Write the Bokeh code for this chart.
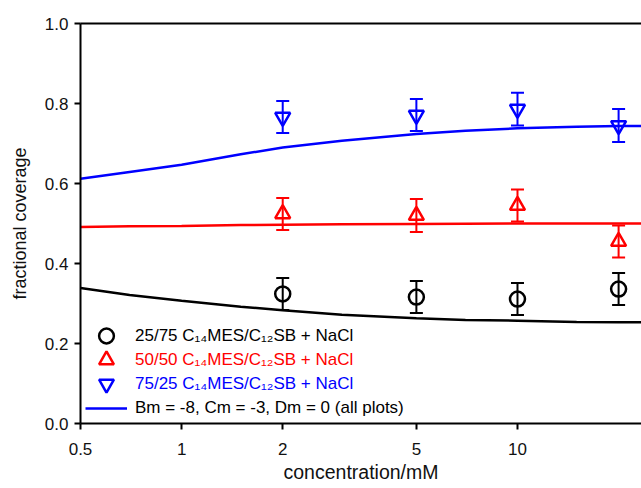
from bokeh.plotting import figure
from bokeh.models import (Range1d, FixedTicker, PrintfTickFormatter, LinearAxis,
                          Whisker, TeeHead, ColumnDataSource, Legend, LegendItem)
from bokeh.embed import file_html
from bokeh.resources import INLINE

FONT = "Liberation Sans"

# measured surface coverage at each salt concentration (mM)
conc = [2, 5, 10, 20]
cov_25_75 = [0.324, 0.316, 0.311, 0.336]
err_25_75 = [0.040, 0.040, 0.040, 0.040]
cov_50_50 = [0.524, 0.520, 0.545, 0.455]
err_50_50 = [0.040, 0.041, 0.040, 0.040]
cov_75_25 = [0.766, 0.771, 0.786, 0.745]
err_75_25 = [0.040, 0.040, 0.041, 0.041]

# model curves (Bm = -8, Cm = -3, Dm = 0)
model_conc = [0.5, 0.7, 1, 1.5, 2, 3, 5, 7, 10, 15, 20, 23.4]
model_25_75 = [0.339, 0.321, 0.307, 0.292, 0.283, 0.272, 0.263, 0.259, 0.257, 0.254, 0.253, 0.253]
model_50_50 = [0.491, 0.493, 0.494, 0.496, 0.497, 0.498, 0.499, 0.4995, 0.500, 0.500, 0.500, 0.500]
model_75_25 = [0.612, 0.629, 0.647, 0.673, 0.690, 0.707, 0.724, 0.732, 0.738, 0.742, 0.744, 0.744]

x_ticks = [0.5, 1, 2, 5, 10]
x_tick_labels = ["0.5", "1", "2", "5", "10"]
y_ticks = [0.0, 0.2, 0.4, 0.6, 0.8, 1.0]

labels = ["25/75 C\u2081\u2084MES/C\u2081\u2082SB + NaCl",
          "50/50 C\u2081\u2084MES/C\u2081\u2082SB + NaCl",
          "75/25 C\u2081\u2084MES/C\u2081\u2082SB + NaCl",
          "Bm = -8, Cm = -3, Dm = 0 (all plots)"]

BLACK, RED, BLUE = "#000000", "#ff0000", "#0000ff"

p = figure(width=641, height=488, x_axis_type="log",
           x_range=Range1d(0.5, 23.4), y_range=Range1d(0, 1),
           output_backend="svg", toolbar_location=None,
           min_border_left=80, min_border_right=0, min_border_top=23, min_border_bottom=65)
p.grid.visible = False
p.outline_line_color = None
p.background_fill_color = "white"
p.border_fill_color = "white"

for ax in (p.xaxis[0], p.yaxis[0]):
    ax.axis_line_width = 2
    ax.major_tick_line_width = 2
    ax.major_tick_out = 6
    ax.major_tick_in = 0
    ax.minor_tick_out = 0
    ax.minor_tick_in = 0
    ax.major_label_text_font = FONT
    ax.major_label_text_font_size = "17px"
    ax.major_label_text_color = "#111111"
    ax.axis_label_text_font = FONT
    ax.axis_label_text_font_style = "normal"
    ax.axis_label_text_color = "#111111"

p.xaxis.ticker = FixedTicker(ticks=x_ticks, minor_ticks=[])
p.xaxis.major_label_overrides = {t: s for t, s in zip(x_ticks, x_tick_labels)}
p.xaxis.axis_label = "concentration/mM"
p.xaxis.axis_label_text_font_size = "19.5px"
p.xaxis.major_label_standoff = 13
p.xaxis.axis_label_standoff = 3

p.yaxis.ticker = FixedTicker(ticks=y_ticks, minor_ticks=[])
p.yaxis.formatter = PrintfTickFormatter(format="%.1f")
p.yaxis.axis_label = "fractional coverage"
p.yaxis.axis_label_text_font_size = "18px"
p.yaxis.major_label_standoff = 6
p.yaxis.axis_label_standoff = 12

# top frame line
top = LinearAxis(ticker=FixedTicker(ticks=[]), major_label_text_font_size="0px",
                 axis_line_width=2, major_tick_out=0, major_tick_in=0,
                 minor_tick_out=0, minor_tick_in=0)
p.add_layout(top, "above")

# model curves
l_black = p.line(model_conc, model_25_75, line_color=BLACK, line_width=2.5)
l_red = p.line(model_conc, model_50_50, line_color=RED, line_width=2.5)
l_blue = p.line(model_conc, model_75_25, line_color=BLUE, line_width=2.5)

series = [(cov_25_75, err_25_75, BLACK, "circle"),
          (cov_50_50, err_50_50, RED, "triangle"),
          (cov_75_25, err_75_25, BLUE, "inverted_triangle")]

marker_renderers = []
for cov, err, color, marker in series:
    src = ColumnDataSource(dict(
        x=conc, y=cov,
        lo=[c - e for c, e in zip(cov, err)],
        hi=[c + e for c, e in zip(cov, err)]))
    w = Whisker(source=src, base="x", lower="lo", upper="hi", dimension="height",
                line_color=color, line_width=2,
                upper_head=TeeHead(size=13, line_color=color, line_width=2),
                lower_head=TeeHead(size=13, line_color=color, line_width=2))
    p.add_layout(w)
    r = p.scatter("x", "y", source=src, marker=marker, size=15,
                  fill_color=None, line_color=color, line_width=2.5)
    marker_renderers.append(r)

# one legend per row so each label keeps its own colour
rows = [(labels[0], marker_renderers[0], BLACK, 37, 69),
        (labels[1], marker_renderers[1], RED, 37, 45),
        (labels[2], marker_renderers[2], BLUE, 37, 21),
        (labels[3], l_blue, BLACK, 20, 5)]
for text, rend, color, gh, ybot in rows:
    lg = Legend(items=[LegendItem(label=text, renderers=[rend])],
                location=(5, ybot), padding=0, margin=0, spacing=0,
                glyph_width=42, glyph_height=gh, label_height=20,
                label_standoff=8, border_line_color=None,
                background_fill_alpha=0, label_text_font=FONT,
                label_text_font_size="17px", label_text_color=color)
    p.add_layout(lg)

open("out.html", "w").write(file_html(p, INLINE))
